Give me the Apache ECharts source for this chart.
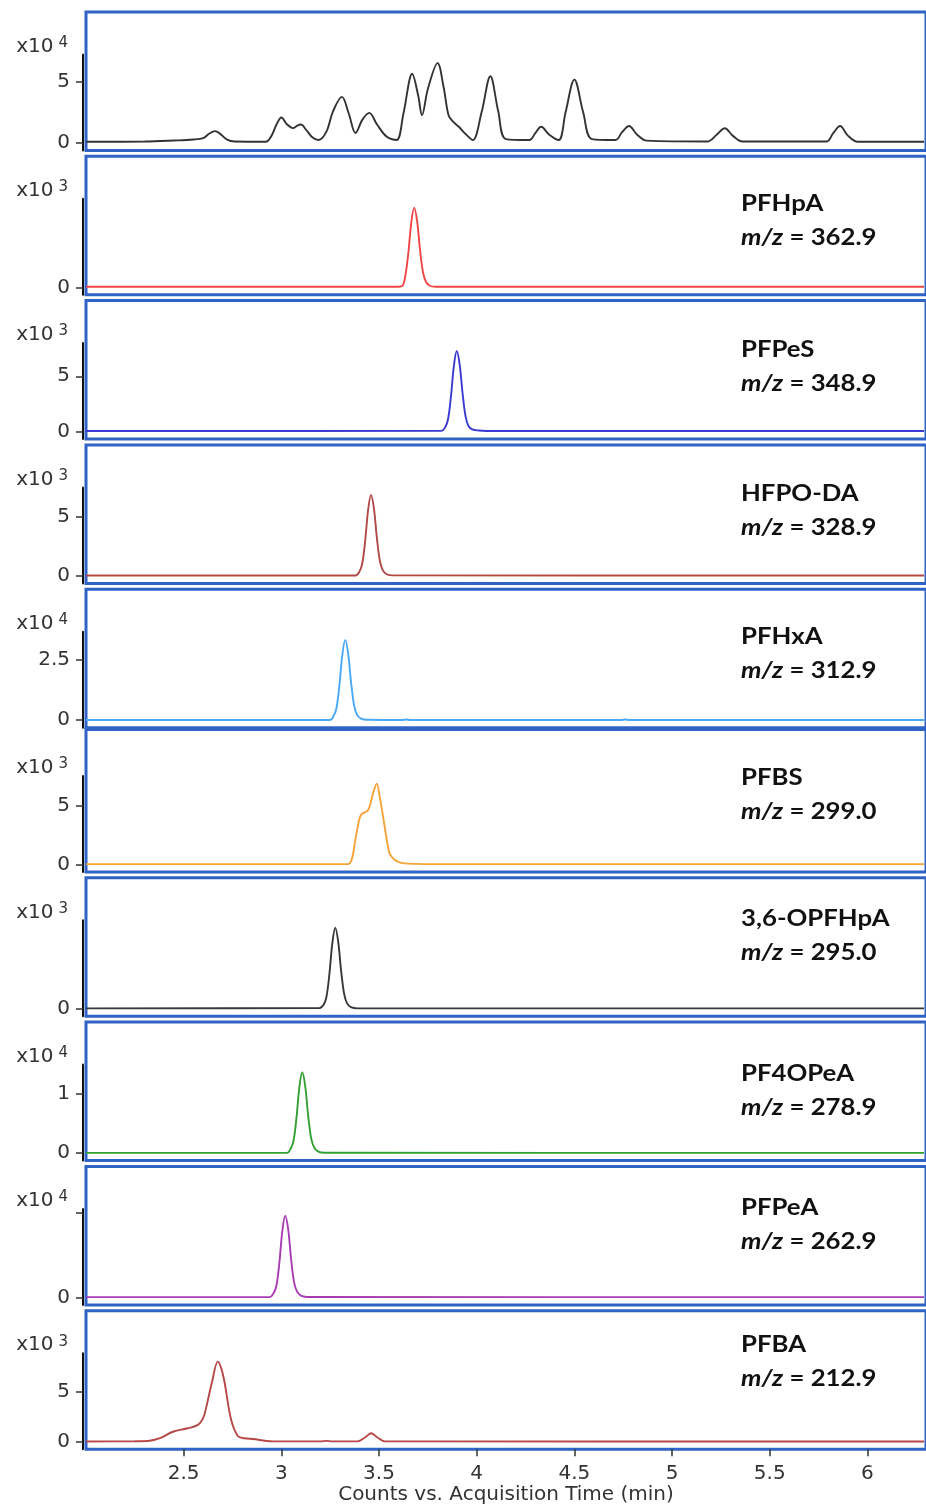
<!DOCTYPE html>
<html>
<head>
<meta charset="utf-8">
<title>Chromatograms</title>
<script src="https://cdn.jsdelivr.net/npm/echarts@6/dist/echarts.min.js"></script>
<style>
  html, body { margin: 0; padding: 0; background: #fff; }
  #chart { width: 926px; height: 1509px; }
</style>
</head>
<body>
<div id="chart"></div>
<script>
// ---- data (time in min, counts in units of the panel multiplier) ----
const compoundNames = ['', 'PFHpA', 'PFPeS', 'HFPO-DA', 'PFHxA', 'PFBS', '3,6-OPFHpA', 'PF4OPeA', 'PFPeA', 'PFBA'];
const mzValues = ['', '362.9', '348.9', '328.9', '312.9', '299.0', '295.0', '278.9', '262.9', '212.9'];
const exponents = [4, 3, 3, 3, 4, 3, 3, 4, 4, 3];
const axisTops = [7.2, 4.5, 8.0, 7.45, 3.69, 7.5, 4.4, 1.49, 1.04, 8.9];
const yTickValues = [[0, 5], [0], [0, 5], [0, 5], [0, 2.5], [0, 5], [0], [0, 1], [0, 1], [0, 5]];
const yLabelValues = [[0, 5], [0], [0, 5], [0, 5], [0, 2.5], [0, 5], [0], [0, 1], [0], [0, 5]];
const timeTicks = [2.5, 3, 3.5, 4, 4.5, 5, 5.5, 6];

const ticCounts = [[2.00,0.10],[2.30,0.12],[2.45,0.2],[2.55,0.28],[2.60,0.4],[2.63,0.75],[2.66,0.97],[2.69,0.7],[2.72,0.3],[2.76,0.12],
  [2.92,0.1],[2.95,0.6],[2.975,1.5],[3.00,2.08],[3.03,1.5],[3.06,1.21],[3.08,1.4],[3.10,1.51],[3.13,1.0],[3.16,0.45],[3.19,0.24],
  [3.23,0.9],[3.265,2.6],[3.31,3.75],[3.345,2.4],[3.38,0.81],[3.415,1.9],[3.45,2.45],[3.49,1.5],[3.54,0.5],[3.59,0.24],
  [3.625,2.4],[3.67,5.64],[3.70,3.9],[3.72,2.27],[3.75,4.4],[3.80,6.50],[3.83,4.6],[3.855,2.3],[3.875,1.8],[3.91,1.3],[3.945,0.7],[3.98,0.24],
  [4.025,2.5],[4.07,5.43],[4.11,2.6],[4.15,0.32],[4.27,0.24],[4.30,0.8],[4.33,1.32],[4.37,0.7],[4.42,0.24],
  [4.455,2.5],[4.50,5.16],[4.545,2.5],[4.59,0.32],[4.71,0.24],[4.745,0.9],[4.78,1.38],[4.82,0.7],[4.87,0.19],
  [5.18,0.12],[5.23,0.7],[5.27,1.2],[5.31,0.6],[5.36,0.12],[5.79,0.12],[5.825,0.8],[5.86,1.38],[5.90,0.6],[5.95,0.1],[6.29,0.1]];
const pfhpa = [[2.0,0.03],[3.60,0.03],[3.62,0.07],[3.635,0.6],[3.65,1.74],[3.665,3.28],[3.68,4.05],[3.695,3.36],[3.71,1.9],
  [3.725,0.77],[3.74,0.28],[3.76,0.08],[3.79,0.03],[6.29,0.03]];
const pfpes = [[2.0,0.05],[3.82,0.07],[3.838,0.36],[3.853,1.09],[3.868,3.13],[3.883,5.9],[3.898,7.28],[3.913,6.04],[3.928,3.42],
  [3.943,1.38],[3.958,0.51],[3.978,0.2],[4.01,0.1],[4.05,0.06],[6.29,0.05]];
const hfpoda = [[2.0,0.03],[3.38,0.03],[3.399,0.34],[3.414,1.02],[3.429,2.93],[3.444,5.52],[3.459,6.82],[3.474,5.66],[3.489,3.2],
  [3.504,1.3],[3.519,0.48],[3.539,0.14],[3.57,0.04],[6.29,0.03]];
const pfhxa = [[2.0,0.01],[3.25,0.01],[3.267,0.17],[3.282,0.5],[3.297,1.44],[3.312,2.71],[3.327,3.35],[3.342,2.78],[3.357,1.57],
  [3.372,0.64],[3.387,0.23],[3.407,0.07],[3.44,0.02],[3.62,0.01],[3.64,0.03],[3.66,0.01],[4.74,0.01],[4.76,0.03],[4.78,0.01],[6.29,0.01]];
const pfbs = [[2.0,0.03],[3.34,0.03],[3.36,0.4],[3.381,2.3],[3.40,3.9],[3.413,4.3],[3.444,4.6],[3.469,6.0],[3.488,6.85],
  [3.505,5.6],[3.526,3.5],[3.545,1.6],[3.56,0.76],[3.602,0.2],[3.687,0.05],[3.8,0.03],[6.29,0.03]];
const opfhpa = [[2.0,0.02],[3.196,0.04],[3.216,0.2],[3.231,0.6],[3.246,1.73],[3.261,3.26],[3.276,4.03],[3.291,3.34],[3.306,1.89],
  [3.321,0.77],[3.336,0.28],[3.356,0.08],[3.39,0.02],[6.29,0.02]];
const pf4opea = [[2.0,0.004],[3.03,0.004],[3.047,0.07],[3.062,0.2],[3.077,0.58],[3.092,1.1],[3.107,1.36],[3.122,1.13],[3.137,0.64],
  [3.152,0.26],[3.167,0.1],[3.187,0.03],[3.22,0.005],[6.29,0.004]];
const pfpea = [[2.0,0.003],[2.94,0.003],[2.96,0.05],[2.975,0.14],[2.99,0.41],[3.005,0.78],[3.02,0.96],[3.035,0.8],[3.05,0.45],
  [3.065,0.18],[3.08,0.07],[3.1,0.02],[3.13,0.005],[6.29,0.003]];
const pfba = [[2.0,0.02],[2.25,0.05],[2.327,0.1],[2.378,0.35],[2.445,1.0],[2.52,1.35],[2.573,1.69],[2.60,2.4],[2.616,3.5],
  [2.645,6.0],[2.675,8.05],[2.692,7.4],[2.709,6.0],[2.743,2.2],[2.777,0.58],[2.81,0.35],[2.854,0.27],[2.95,0.05],
  [3.2,0.03],[3.23,0.08],[3.26,0.03],[3.39,0.03],[3.43,0.45],[3.46,0.85],[3.49,0.45],[3.53,0.03],[6.29,0.02]];

const traces = [ticCounts, pfhpa, pfpes, hfpoda, pfhxa, pfbs, opfhpa, pf4opea, pfpea, pfba];

// ---- styling / layout ----
const lineColors = ['#333333', '#f04545', '#3a3ad0', '#b04848', '#4aa8f5', '#f5a33a', '#383838', '#33a033', '#a83cb4', '#b84848'];
const labelCenters = [0, 203, 349, 493, 636, 777, 918, 1073, 1207, 1344];
const boxRaise = [0, 0, 0, 0, 0, 4, 0, 0, 0, 0]; // panel 6 box butts against panel 5
const BLUE = '#2f63c6';
const SANS = '"DejaVu Sans", sans-serif';
const TEXT = '#333';
const firstZero = 143, pitch = 144.3, axisLen = 88.5, below = 7.5;

const grid = [], xAxis = [], yAxis = [], series = [], graphic = [];

traces.forEach((data, i) => {
  const z = firstZero + pitch * i;
  const top = axisTops[i];
  // blue panel box
  grid.push({ left: 86, right: -3, top: z - 131 - boxRaise[i], height: 131 + below + boxRaise[i], show: true,
    borderColor: BLUE, borderWidth: 3, backgroundColor: '#fff' });
  // data grid carrying the y axis
  grid.push({ left: 86, right: -3, top: z - axisLen, height: axisLen + below, show: false });

  const last = i === traces.length - 1;
  xAxis.push({
    gridIndex: 2 * i, type: 'value', min: 2, max: 6.3, show: last,
    position: 'bottom', offset: 3,
    axisLine: { show: false },
    axisTick: { show: true, length: 7, customValues: timeTicks, lineStyle: { color: TEXT, width: 1.5 } },
    axisLabel: { customValues: timeTicks, margin: 12, fontSize: 20, fontFamily: SANS, color: TEXT },
    splitLine: { show: false },
    name: last ? 'Counts vs. Acquisition Time (min)' : '',
    nameLocation: 'middle', nameGap: 33,
    nameTextStyle: { fontSize: 20, fontFamily: SANS, color: TEXT }
  });
  yAxis.push({ gridIndex: 2 * i, type: 'value', min: 0, max: 1, show: false });

  xAxis.push({ gridIndex: 2 * i + 1, type: 'value', min: 2, max: 6.3, show: false });
  yAxis.push({
    gridIndex: 2 * i + 1, type: 'value', min: -below * top / axisLen, max: top, offset: 3,
    axisLine: { show: true, lineStyle: { color: '#111', width: 2 } },
    axisTick: { show: true, length: 7, customValues: yTickValues[i], lineStyle: { color: TEXT, width: 1.5 } },
    axisLabel: { customValues: yLabelValues[i], margin: 13, fontSize: 20, fontFamily: SANS, color: TEXT },
    splitLine: { show: false },
    name: '{a|x10}{b|' + exponents[i] + '}',
    nameLocation: 'end', nameGap: -3,
    nameTextStyle: {
      align: 'right', padding: [0, 15, 0, 0],
      rich: {
        a: { fontSize: 20, fontFamily: SANS, color: TEXT, lineHeight: 22 },
        b: { fontSize: 15, fontFamily: SANS, color: TEXT, verticalAlign: 'top', lineHeight: 14, padding: [0, 0, 0, 5] }
      }
    }
  });

  series.push({
    type: 'line', xAxisIndex: 2 * i + 1, yAxisIndex: 2 * i + 1, data,
    smooth: 0.35, symbol: 'none', clip: false, silent: true,
    lineStyle: { color: lineColors[i], width: 1.9 }
  });

  if (compoundNames[i]) {
    graphic.push({
      type: 'text', x: 741, y: labelCenters[i] - 16, scaleX: 1.12, silent: true, z: 10,
      style: {
        text: '{n|' + compoundNames[i] + '}\n{i|m/z}{n| = ' + mzValues[i] + '}',
        align: 'left', verticalAlign: 'top',
        rich: {
          n: { fontFamily: 'Lato', fontWeight: 'bold', fontSize: 23, lineHeight: 34, fill: '#111' },
          i: { fontFamily: 'Lato', fontWeight: 'bold', fontStyle: 'italic', fontSize: 23, lineHeight: 34, fill: '#111' }
        }
      }
    });
  }
});

const chart = echarts.init(document.getElementById('chart'));
chart.setOption({
  backgroundColor: '#fff',
  animation: false,
  grid, xAxis, yAxis, series, graphic
});
</script>
</body>
</html>
